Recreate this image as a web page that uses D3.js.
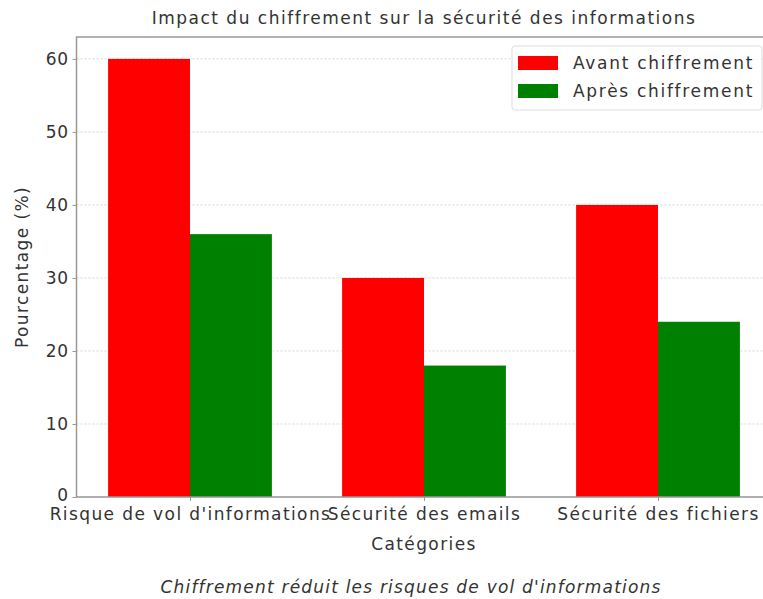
<!DOCTYPE html>
<html><head><meta charset="utf-8">
<script src="https://cdn.jsdelivr.net/npm/d3@7"></script>
<style>body{margin:0;background:#fff}svg{display:block}text{font-family:"DejaVu Sans",sans-serif;fill:#333}</style>
</head><body>
<svg id="c" width="763" height="599"></svg>
<script>
const categories = ["Risque de vol d'informations", "Sécurité des emails", "Sécurité des fichiers"];
const seriesNames = ["Avant chiffrement", "Après chiffrement"];
const avant = [60, 30, 40];
const apres = [36, 18, 24];
const yTicks = [0, 10, 20, 30, 40, 50, 60];
const colors = ["#ff0000", "#008000"];

const svg = d3.select("#c");
const m = {l: 76.5, r: 771.5, t: 37, b: 497};
const bw = 0.35;
const x = d3.scaleLinear().domain([-0.485, 2.485]).range([m.l, m.r]);
const y = d3.scaleLinear().domain([0, 63]).range([m.b, m.t]);

// grid
svg.append("g").selectAll("line").data(yTicks).join("line")
  .attr("x1", m.l).attr("x2", m.r).attr("y1", d => y(d)).attr("y2", d => y(d))
  .attr("stroke", "#ccc").attr("stroke-width", 0.8).attr("stroke-dasharray", "2,2");

const series = [avant, apres];
series.forEach((vals, si) => {
  svg.append("g").selectAll("rect").data(vals).join("rect")
    .attr("x", (d, i) => x(i + (si === 0 ? -bw : 0)))
    .attr("width", (d, i) => x(i + bw) - x(i))
    .attr("y", d => y(d)).attr("height", d => y(0) - y(d))
    .attr("fill", colors[si]);
});

// frame
svg.append("rect").attr("x", m.l).attr("y", m.t).attr("width", m.r - m.l).attr("height", m.b - m.t)
  .attr("fill", "none").attr("stroke", "#999").attr("stroke-width", 1.5);

// y axis
const ya = svg.append("g").attr("transform", `translate(${m.l},0)`)
  .call(d3.axisLeft(y).tickValues(yTicks).tickSize(4).tickPadding(4));
ya.select(".domain").remove();
ya.selectAll("line").attr("stroke", "#999");
ya.selectAll("text").style("font-size", "17px").style("letter-spacing", "0.5px").attr("fill", "#333");
ya.selectAll("text").filter(d => d === 0).attr("dy", "0.2em");

// x axis
const xa = svg.append("g").attr("transform", `translate(0,${m.b})`)
  .call(d3.axisBottom(x).tickValues([0, 1, 2]).tickFormat(i => categories[i]).tickSize(4).tickPadding(7));
xa.select(".domain").remove();
xa.selectAll("line").attr("stroke", "#999");
xa.selectAll("text").style("font-size", "17px").style("letter-spacing", "1.4px").attr("fill", "#333");

svg.append("text").attr("x", (m.l + m.r) / 2).attr("y", 550).attr("text-anchor", "middle")
  .style("font-size", "17px").style("letter-spacing", "1.4px").text("Catégories");
svg.append("text").attr("transform", `translate(28,${(m.t + m.b) / 2}) rotate(-90)`).attr("text-anchor", "middle")
  .style("font-size", "17px").style("letter-spacing", "1.4px").text("Pourcentage (%)");
svg.append("text").attr("x", (m.l + m.r) / 2).attr("y", 24).attr("text-anchor", "middle")
  .style("font-size", "17px").style("letter-spacing", "1.5px").text("Impact du chiffrement sur la sécurité des informations");
svg.append("text").attr("x", 411).attr("y", 593).attr("text-anchor", "middle")
  .style("font-size", "17px").style("letter-spacing", "1.2px").style("font-style", "italic").text("Chiffrement réduit les risques de vol d'informations");

// legend
const lg = svg.append("g");
lg.append("rect").attr("x", 512).attr("y", 46).attr("width", 250).attr("height", 64).attr("rx", 3)
  .attr("fill", "#fff").attr("fill-opacity", 0.8).attr("stroke", "#ddd");
seriesNames.forEach((n, i) => {
  lg.append("rect").attr("x", 518).attr("y", 56 + i * 28).attr("width", 40).attr("height", 14).attr("fill", colors[i]);
  lg.append("text").attr("x", 573).attr("y", 69 + i * 28).style("font-size", "17px").style("letter-spacing", "1.7px").text(n);
});
</script>
</body></html>
